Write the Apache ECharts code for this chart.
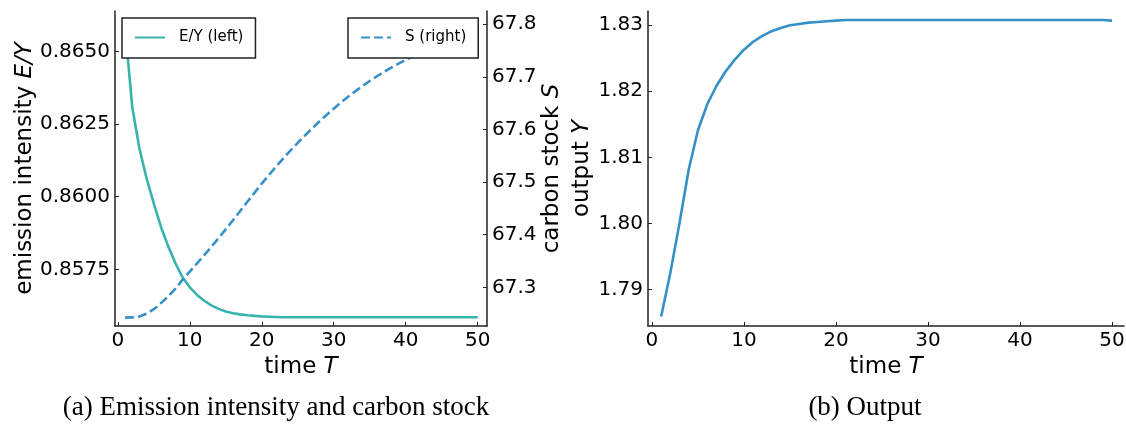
<!DOCTYPE html>
<html><head><meta charset="utf-8">
<script src="https://cdn.jsdelivr.net/npm/echarts@6/dist/echarts.min.js"></script>
<style>html,body{margin:0;padding:0;background:#fff}#c{width:1126px;height:427px}</style>
</head><body><div id="c"></div>
<script>
const time = [1,2,3,4,5,6,7,8,9,10,11,12,13,14,15,16,17,18,19,20,21,22,23,24,25,26,27,28,29,30,31,32,33,34,35,36,37,38,39,40,41,42,43,44,45,46,47,48,49,50];
const emissionIntensity = [0.86582,0.86308,0.86165,0.86062,0.85976,0.85895,0.85829,0.85771,0.85722,0.85688,
  0.85662,0.85642,0.85626,0.85614,0.85605,0.85599,0.85595,0.85592,0.85590,0.85588,
  0.85587,0.85586,0.85585,0.85585,0.85585,0.85585,0.85585,0.85585,0.85585,0.85585,
  0.85585,0.85585,0.85585,0.85585,0.85585,0.85585,0.85585,0.85585,0.85585,0.85585,
  0.85585,0.85585,0.85585,0.85585,0.85585,0.85585,0.85585,0.85585,0.85585,0.85585];
const carbonStock = [67.2425,67.2428,67.2445,67.2500,67.2585,67.2700,67.2830,67.2975,67.3145,67.3300,
  67.3455,67.3610,67.3770,67.3935,67.4105,67.4275,67.4450,67.4625,67.4800,67.4970,
  67.5135,67.5295,67.5450,67.5600,67.5745,67.5885,67.6020,67.6150,67.6275,67.6395,
  67.6510,67.6620,67.6725,67.6825,67.6920,67.7010,67.7095,67.7175,67.7250,67.7320,
  67.7390,67.7455,67.7520,67.7585,67.7650,67.7710,67.7770,67.7830,67.7885,67.7940];
const outputY = [1.7859,1.7925,1.8001,1.8082,1.8141,1.8180,1.8208,1.8230,1.8248,1.8263,
  1.8275,1.8284,1.8291,1.8296,1.8300,1.8302,1.8304,1.8305,1.8306,1.8307,
  1.8308,1.8308,1.8308,1.8308,1.8308,1.8308,1.8308,1.8308,1.8308,1.8308,
  1.8308,1.8308,1.8308,1.8308,1.8308,1.8308,1.8308,1.8308,1.8308,1.8308,
  1.8308,1.8308,1.8308,1.8308,1.8308,1.8308,1.8308,1.8308,1.8308,1.8307];
const xTicks = [0,10,20,30,40,50];
const eyTicks = [0.8575,0.8600,0.8625,0.8650];
const sTicks = [67.3,67.4,67.5,67.6,67.7,67.8];
const yTicks = [1.79,1.80,1.81,1.82,1.83];
const seriesNames = ['E/Y (left)','S (right)','Y'];
const captions = ['(a) Emission intensity and carbon stock','(b) Output'];

const FONT = 'DejaVu Sans';
const AX = '#222';
function axisCommon(ticks, digits) {
  return {
    axisLine: {show: true, onZero: false, lineStyle: {color: AX, width: 1.5}},
    axisTick: {show: true, inside: true, length: 4, customValues: ticks, lineStyle: {color: AX, width: 1}},
    axisLabel: {color: '#000', fontSize: 20, fontFamily: FONT, margin: 5, customValues: ticks,
      formatter: v => digits === 0 ? String(Math.round(v)) : Number(v).toFixed(digits)},
    splitLine: {show: false}
  };
}
const nameStyle = {fontSize: 23, fontFamily: FONT, color: '#000',
  rich: {i: {fontSize: 23, fontFamily: FONT, fontStyle: 'italic', color: '#000'}}};
const legendCommon = {
  orient: 'horizontal', itemWidth: 30, itemHeight: 14,
  itemStyle: {color: 'rgba(0,0,0,0)', borderColor: 'rgba(0,0,0,0)', borderWidth: 0, opacity: 0},
  textStyle: {fontSize: 15, fontFamily: FONT, color: '#000', padding: [0, 0, 0, 9]},
  borderColor: '#222', borderWidth: 1.5, borderRadius: 0, padding: [12, 12, 13, 12],
  backgroundColor: '#fff'
};
const pairs = arr => time.map((t, i) => [t, arr[i]]);

const chart = echarts.init(document.getElementById('c'), null, {renderer: 'canvas'});
chart.setOption({
  animation: false,
  backgroundColor: '#fff',
  grid: [
    {left: 115, top: 11, width: 372, height: 315, outerBoundsMode: 'none', containLabel: false},
    {left: 648, top: 11, width: 476, height: 315, outerBoundsMode: 'none', containLabel: false}
  ],
  xAxis: [
    Object.assign({type: 'value', gridIndex: 0, min: -0.4, max: 51.3,
      name: 'time {i|T}', nameLocation: 'middle', nameGap: 29, nameTextStyle: nameStyle}, axisCommon(xTicks, 0)),
    Object.assign({type: 'value', gridIndex: 1, min: -0.43, max: 51.3,
      name: 'time {i|T}', nameLocation: 'middle', nameGap: 29, nameTextStyle: nameStyle}, axisCommon(xTicks, 0))
  ],
  yAxis: [
    Object.assign({type: 'value', gridIndex: 0, position: 'left', min: 0.85555, max: 0.86639,
      name: 'emission intensity {i|E/Y}', nameLocation: 'middle', nameRotate: 90, nameGap: 70,
      nameTextStyle: nameStyle}, axisCommon(eyTicks, 4)),
    Object.assign({type: 'value', gridIndex: 0, position: 'right', min: 67.2265, max: 67.825,
      name: 'carbon stock {i|S}', nameLocation: 'middle', nameRotate: 90, nameGap: 52,
      nameTextStyle: nameStyle}, axisCommon(sTicks, 1)),
    Object.assign({type: 'value', gridIndex: 1, position: 'left', min: 1.78445, max: 1.83216,
      name: 'output {i|Y}', nameLocation: 'middle', nameRotate: 90, nameGap: 54,
      nameTextStyle: nameStyle}, axisCommon(yTicks, 2))
  ],
  legend: [
    Object.assign({data: [seriesNames[0]], left: 122, top: 18}, legendCommon),
    Object.assign({data: [seriesNames[1]], left: 348, top: 18}, legendCommon)
  ],
  series: [
    {type: 'line', name: seriesNames[0], xAxisIndex: 0, yAxisIndex: 0, data: pairs(emissionIntensity),
      symbol: 'none', lineStyle: {color: '#37b3ad', width: 2.6}, itemStyle: {color: '#37b3ad'}},
    {type: 'line', name: seriesNames[1], xAxisIndex: 0, yAxisIndex: 1, data: pairs(carbonStock),
      symbol: 'none', lineStyle: {color: '#3890c8', width: 2.6, type: [9, 4]}, itemStyle: {color: '#3890c8'}},
    {type: 'line', name: seriesNames[2], xAxisIndex: 1, yAxisIndex: 2, data: pairs(outputY),
      symbol: 'none', lineStyle: {color: '#3590c8', width: 2.6}, itemStyle: {color: '#3590c8'}}
  ],
  graphic: [
    {type: 'text', x: 276, y: 408, style: {text: captions[0], font: '27px "Liberation Serif"', fill: '#000',
      align: 'center', verticalAlign: 'middle'}},
    {type: 'text', x: 865, y: 408, style: {text: captions[1], font: '27px "Liberation Serif"', fill: '#000',
      align: 'center', verticalAlign: 'middle'}}
  ]
});
</script></body></html>
